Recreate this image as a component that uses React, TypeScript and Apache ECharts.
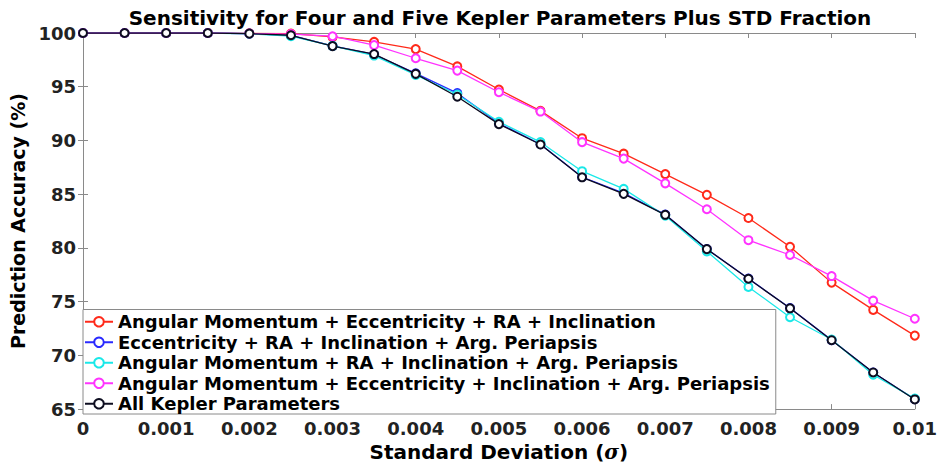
import React, { useEffect, useRef } from "react";
import * as echarts from "echarts";

const xValues = [0, 0.0005, 0.001, 0.0015, 0.002, 0.0025, 0.003, 0.0035, 0.004, 0.0045, 0.005, 0.0055, 0.006, 0.0065, 0.007, 0.0075, 0.008, 0.0085, 0.009, 0.0095, 0.01];

const seriesNames = [
  "Angular Momentum + Eccentricity + RA + Inclination",
  "Eccentricity + RA + Inclination + Arg. Periapsis",
  "Angular Momentum + RA + Inclination + Arg. Periapsis",
  "Angular Momentum + Eccentricity + Inclination + Arg. Periapsis",
  "All Kepler Parameters",
];

const redValues = [100, 100, 100, 100, 99.97, 99.95, 99.63, 99.17, 98.5, 96.89, 94.74, 92.75, 90.21, 88.77, 86.87, 84.94, 82.78, 80.11, 76.77, 74.23, 71.84];
const blueValues = [100, 100, 100, 100, 99.94, 99.78, 98.8, 98.0, 96.25, 94.4, 91.6, 89.65, 86.6, 85.1, 83.1, 79.9, 77.15, 74.4, 71.42, 68.4, 65.92];
const cyanValues = [100, 100, 100, 100, 99.93, 99.7, 98.8, 97.9, 96.1, 94.28, 91.74, 89.84, 87.14, 85.49, 83.0, 79.68, 76.37, 73.55, 71.48, 68.2, 65.97];
const pinkValues = [100, 100, 100, 100, 99.95, 99.9, 99.7, 98.87, 97.65, 96.5, 94.49, 92.69, 89.84, 88.31, 86.01, 83.6, 80.72, 79.34, 77.38, 75.09, 73.41];
const blackValues = [100, 100, 100, 100, 99.94, 99.79, 98.78, 98.04, 96.2, 94.07, 91.52, 89.62, 86.57, 85.03, 83.08, 79.89, 77.13, 74.38, 71.41, 68.41, 65.9];

const seriesColors = ["#ff2a1a", "#2a2aff", "#1ae8e8", "#ff33ff", "#0d0d20"];
const allValues = [redValues, blueValues, cyanValues, pinkValues, blackValues];

const FONT = "'DejaVu Sans', 'Liberation Sans', Arial, sans-serif";

export default function App() {
  const ref = useRef<HTMLDivElement>(null);
  useEffect(() => {
    if (!ref.current) return;
    const chart = echarts.init(ref.current, undefined, { renderer: "svg" });
    const axisGray = "#8a8a8a";
    const option: any = {
      animation: false,
      backgroundColor: "#ffffff",
      textStyle: { fontFamily: FONT },
      title: {
        text: "Sensitivity for Four and Five Kepler Parameters Plus STD Fraction",
        left: 495,
        textAlign: "center",
        top: 3,
        textStyle: { fontFamily: FONT, fontSize: 20, fontWeight: "bold", color: "#000" },
      },
      grid: { left: 83, right: 22, top: 33, bottom: 53, containLabel: false },
      legend: {
        orient: "vertical",
        left: 83,
        bottom: 53,
        data: seriesNames,
        itemWidth: 28,
        itemHeight: 12,
        itemGap: 2,
        padding: [3, 6, 1, 1],
        borderColor: axisGray,
        borderWidth: 1,
        borderRadius: 0,
        backgroundColor: "#ffffff",
        textStyle: { fontFamily: FONT, fontSize: 18, fontWeight: "bold", color: "#000", lineHeight: 18.5 },
      },
      xAxis: [
        {
          type: "value",
          min: 0,
          max: 0.01,
          interval: 0.001,
          name: "Standard Deviation ({i|σ})",
          nameLocation: "middle",
          nameGap: 27,
          nameTextStyle: {
            fontFamily: FONT,
            fontSize: 20,
            fontWeight: "bold",
            color: "#000",
            rich: { i: { fontFamily: "'DejaVu Serif', serif", fontStyle: "italic", fontSize: 20, color: "#000" } },
          },
          axisLine: { show: true, lineStyle: { color: axisGray, width: 1 } },
          axisTick: { show: true, inside: true, length: 5, lineStyle: { color: axisGray } },
          splitLine: { show: false },
          axisLabel: {
            fontFamily: FONT,
            fontSize: 18,
            fontWeight: "bold",
            color: "#222",
            margin: 10,
            formatter: (v: number) => String(+v.toFixed(3)),
          },
        },
        {
          type: "value",
          position: "top",
          min: 0,
          max: 0.01,
          interval: 0.001,
          axisLine: { show: true, lineStyle: { color: axisGray, width: 1 } },
          axisTick: { show: true, inside: true, length: 5, lineStyle: { color: axisGray } },
          axisLabel: { show: false },
          splitLine: { show: false },
        },
      ],
      yAxis: [
        {
          type: "value",
          min: 65,
          max: 100,
          interval: 5,
          name: "Prediction Accuracy (%)",
          nameLocation: "middle",
          nameRotate: 90,
          nameGap: 52,
          nameTextStyle: { fontFamily: FONT, fontSize: 19, fontWeight: "bold", color: "#000" },
          axisLine: { show: true, lineStyle: { color: axisGray, width: 1 } },
          axisTick: { show: true, inside: true, length: 5, lineStyle: { color: axisGray } },
          splitLine: { show: false },
          axisLabel: { fontFamily: FONT, fontSize: 18, fontWeight: "bold", color: "#222", margin: 7 },
        },
        {
          type: "value",
          position: "right",
          min: 65,
          max: 100,
          interval: 5,
          axisLine: { show: true, lineStyle: { color: axisGray, width: 1 } },
          axisTick: { show: true, inside: true, length: 5, lineStyle: { color: axisGray } },
          axisLabel: { show: false },
          splitLine: { show: false },
        },
      ],
      series: seriesNames.map((name, i) => ({
        name,
        type: "line",
        xAxisIndex: 0,
        yAxisIndex: 0,
        data: xValues.map((x, j) => [x, allValues[i][j]]),
        symbol: "emptyCircle",
        symbolSize: 8,
        showSymbol: true,
        color: seriesColors[i],
        lineStyle: { color: seriesColors[i], width: 1.3 },
        itemStyle: { color: seriesColors[i], borderColor: seriesColors[i], borderWidth: 1.5 },
        z: 2 + i,
      })),
    };
    chart.setOption(option);
    return () => chart.dispose();
  }, []);
  return (
    <div
      ref={ref}
      style={{ position: "fixed", left: 0, top: 0, width: 940, height: 467, background: "#fff" }}
    />
  );
}
